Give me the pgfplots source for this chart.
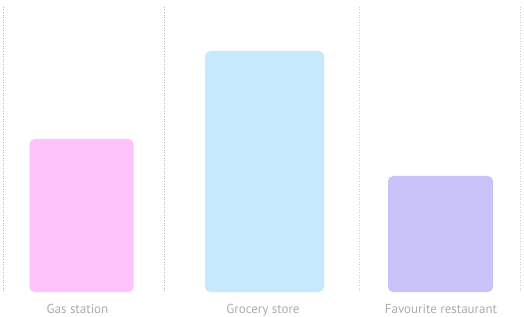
\documentclass[border=0pt]{standalone}
\usepackage{pgfplots}
\pgfplotsset{compat=1.18}
\usepackage{fontspec}
\setmainfont{PT Sans}
\definecolor{barPink}{RGB}{255,194,251}
\definecolor{barBlue}{RGB}{198,233,254}
\definecolor{barPurple}{RGB}{200,196,250}
\definecolor{labelGray}{RGB}{172,172,172}
\definecolor{gridGray}{RGB}{185,185,185}
\pgfplotsset{
  sep/.style={sharp plot, draw=#1, line width=0.8bp, dash pattern=on 0.8bp off 1.8bp, forget plot},
}
\tikzset{
  cat/.style={text=labelGray, anchor=base, font=\fontsize{13bp}{15bp}\selectfont},
}
\begin{document}
\begin{tikzpicture}
\begin{axis}[
  name=ax,
  scale only axis,
  width=524bp, height=317bp,
  xmin=0, xmax=524,
  ymin=-25, ymax=292,
  axis lines=none,
  xtick=\empty, ytick=\empty,
  clip=false,
  ybar,
  bar shift=0pt,
]
% column separators
\addplot[sep=gridGray] coordinates {(3,1) (3,287)};
\addplot[sep=gridGray] coordinates {(164,1) (164,287)};
\addplot[sep=gridGray!70] coordinates {(359,1) (359,287)};
\addplot[sep=gridGray!70] coordinates {(520,1) (520,287)};
% bars
\addplot[fill=barPink, draw=none, bar width=104, rounded corners=5bp] coordinates {(81.5,153)};
\addplot[fill=barBlue, draw=none, bar width=119, rounded corners=5bp] coordinates {(264.5,241)};
\addplot[fill=barPurple, draw=none, bar width=105, rounded corners=5bp] coordinates {(440.5,116)};
% category labels
\node[cat] at (axis cs:77.5,-21) {Gas station};
\node[cat] at (axis cs:263,-21) {Grocery store};
\node[cat] at (axis cs:441,-21) {Favourite restaurant};
\end{axis}
\pgfresetboundingbox
\path[use as bounding box] (ax.south west) rectangle (ax.north east);
\end{tikzpicture}
\end{document}
